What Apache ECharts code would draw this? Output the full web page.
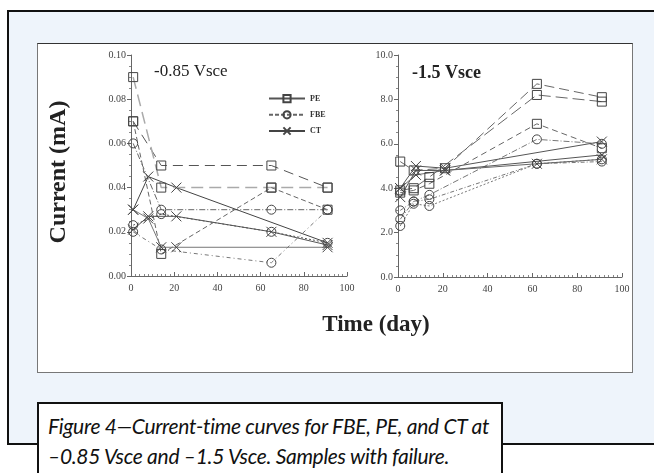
<!DOCTYPE html>
<html>
<head>
<meta charset="utf-8">
<script src="https://cdn.jsdelivr.net/npm/echarts@6/dist/echarts.min.js"></script>
<style>
  html, body { margin: 0; padding: 0; width: 654px; height: 473px; overflow: hidden; background: #fff; }
  #frame { position: absolute; left: 7px; top: 10px; width: 660px; height: 431px; background: #eef4fb; border: 2px solid #111; }
  #box { position: absolute; left: 37px; top: 43px; width: 594px; height: 328px; background: #fff; border: 1px solid #777; border-top-color: #333; }
  #caption { position: absolute; left: 37px; top: 402px; width: 466px; height: 100px; background: #fff; border: 2px solid #111;
    font-family: Lato, "Noto Sans", sans-serif; font-style: italic; font-size: 21px; line-height: 30px; letter-spacing: -0.3px;
    color: #111; padding: 7px 0 0 9px; box-sizing: border-box; white-space: nowrap; }
  #main { position: absolute; left: 0; top: 0; width: 654px; height: 473px; }
</style>
</head>
<body>
<div id="frame"></div>
<div id="box"></div>
<div id="caption">Figure 4—Current-time curves for FBE, PE, and CT at<br>–0.85 Vsce and –1.5 Vsce. Samples with failure.</div>
<div id="main"></div>
<script>
// 数据：-0.85 Vsce（mA）
const pe085a = [[1, 0.090], [14, 0.040], [65, 0.040], [91, 0.040]]
const pe085b = [[1, 0.070], [14, 0.050], [65, 0.050], [91, 0.040]]
const pe085c = [[1, 0.070], [14, 0.010], [65, 0.040], [91, 0.030]]
const fbe085a = [[1, 0.060], [14, 0.030], [65, 0.030], [91, 0.030]]
const fbe085b = [[1, 0.020], [14, 0.012], [65, 0.006], [91, 0.030]]
const fbe085c = [[1, 0.023], [14, 0.028], [65, 0.020], [91, 0.015]]
const ct085a = [[1, 0.030], [8, 0.045], [21, 0.040], [91, 0.015]]
const ct085b = [[1, 0.021], [8, 0.027], [21, 0.027], [65, 0.020], [91, 0.014]]
const ct085c = [[1, 0.030], [8, 0.026], [14, 0.013], [21, 0.013], [91, 0.013]]

// 数据：-1.5 Vsce（mA）
const pe15a = [[1, 5.2], [7, 4.8], [21, 4.9], [62, 8.7], [91, 8.1]]
const pe15b = [[1, 3.9], [7, 4.0], [14, 4.5], [62, 8.2], [91, 7.9]]
const pe15c = [[1, 3.8], [7, 3.9], [14, 4.2], [62, 6.9], [91, 5.8]]
const fbe15a = [[1, 2.6], [7, 3.4], [14, 3.7], [62, 6.2], [91, 6.0]]
const fbe15b = [[1, 2.3], [7, 3.3], [14, 3.2], [62, 5.1], [91, 5.3]]
const fbe15c = [[1, 3.0], [7, 3.4], [14, 3.5], [62, 5.1], [91, 5.2]]
const ct15a = [[1, 4.0], [8, 5.0], [21, 4.9], [91, 6.1]]
const ct15b = [[1, 3.6], [8, 4.8], [21, 4.8], [91, 5.5]]
const ct15c = [[1, 4.0], [8, 4.6], [21, 4.8], [62, 5.1], [91, 5.3]]

const legendNames = ['PE', 'FBE', 'CT']

const SERIF = '"Liberation Serif", "DejaVu Serif", serif'
const CROSS = 'path://M0,0L10,10M10,0L0,10'

// 标记样式
const marks = {
  PE: { symbol: 'rect', size: 9 },
  FBE: { symbol: 'circle', size: 9 },
  CT: { symbol: CROSS, size: 10 }
}

function makeSeries(name, data, idx, color, dash, width) {
  return {
    name: name,
    type: 'line',
    xAxisIndex: idx,
    yAxisIndex: idx,
    data: data,
    symbol: marks[name].symbol,
    symbolSize: marks[name].size,
    showAllSymbol: true,
    lineStyle: { color: color, width: width || 1, type: dash },
    itemStyle: { color: 'rgba(255,255,255,0)', borderColor: '#444', borderWidth: 1 },
    emphasis: { disabled: true },
    z: 3
  }
}

function xAxisFor(idx) {
  return {
    type: 'value', gridIndex: idx, min: 0, max: 100, interval: 20,
    axisLine: { show: true, lineStyle: { color: '#666', width: 1 } },
    axisTick: { show: true, inside: true, length: 4, lineStyle: { color: '#666' } },
    minorTick: { show: true, splitNumber: 10, length: 2, lineStyle: { color: '#888' } },
    axisLabel: { color: '#444', fontFamily: SERIF, fontSize: 10, margin: 7 },
    splitLine: { show: false }
  }
}

function yAxisFor(idx, max, step, digits) {
  return {
    type: 'value', gridIndex: idx, min: 0, max: max, interval: step,
    axisLine: { show: true, lineStyle: { color: '#666', width: 1 } },
    axisTick: { show: true, length: 4, lineStyle: { color: '#666' } },
    minorTick: { show: true, splitNumber: 4, length: 2, lineStyle: { color: '#888' } },
    axisLabel: { color: '#444', fontFamily: SERIF, fontSize: 10, margin: 5, formatter: v => v.toFixed(digits) },
    splitLine: { show: false }
  }
}

const chart = echarts.init(document.getElementById('main'), null, { renderer: 'canvas' })

chart.setOption({
  backgroundColor: 'transparent',
  animation: false,
  grid: [
    { left: 131, top: 55, width: 216, height: 221 },
    { left: 398, top: 55, width: 224, height: 222 }
  ],
  xAxis: [xAxisFor(0), xAxisFor(1)],
  yAxis: [yAxisFor(0, 0.1, 0.02, 2), yAxisFor(1, 10, 2, 1)],
  legend: {
    data: [
      { name: legendNames[0], lineStyle: { type: 'solid' } },
      { name: legendNames[1], lineStyle: { type: [4, 2] } },
      { name: legendNames[2], lineStyle: { type: 'solid' } }
    ],
    orient: 'vertical',
    left: 263,
    top: 89,
    itemWidth: 36,
    itemHeight: 9,
    itemGap: 7,
    textStyle: { fontFamily: SERIF, fontSize: 8, color: '#333', fontWeight: 'bold' },
    selectedMode: false
  },
  graphic: [
    { type: 'text', left: 154, top: 63, style: { text: '-0.85 Vsce', font: '17px ' + SERIF, fill: '#222' } },
    { type: 'text', left: 412, top: 64, style: { text: '-1.5 Vsce', font: 'bold 18px ' + SERIF, fill: '#222' } },
    { type: 'text', x: 59, y: 172, rotation: Math.PI / 2,
      style: { text: 'Current (mA)', font: 'bold 24px ' + SERIF, fill: '#222', textAlign: 'center', textVerticalAlign: 'middle' } },
    { type: 'text', x: 376, y: 325,
      style: { text: 'Time (day)', font: 'bold 23px ' + SERIF, fill: '#222', textAlign: 'center', textVerticalAlign: 'middle' } }
  ],
  series: [
    makeSeries('PE', pe085b, 0, '#555', [10, 6]),
    makeSeries('FBE', fbe085a, 0, '#666', [6, 2, 1, 2]),
    makeSeries('CT', ct085a, 0, '#444', 'solid'),
    makeSeries('PE', pe085a, 0, '#aaa', [12, 6], 1.5),
    makeSeries('PE', pe085c, 0, '#666', [5, 3]),
    makeSeries('FBE', fbe085b, 0, '#777', [4, 3, 1, 3]),
    makeSeries('FBE', fbe085c, 0, '#555', [2, 2]),
    makeSeries('CT', ct085b, 0, '#555', 'solid'),
    makeSeries('CT', ct085c, 0, '#777', 'solid'),
    makeSeries('PE', pe15a, 1, '#666', [10, 5]),
    makeSeries('PE', pe15b, 1, '#666', [12, 5]),
    makeSeries('PE', pe15c, 1, '#666', [6, 4]),
    makeSeries('FBE', fbe15a, 1, '#777', [6, 2, 1, 2]),
    makeSeries('FBE', fbe15b, 1, '#777', [2, 2]),
    makeSeries('FBE', fbe15c, 1, '#777', [4, 2, 1, 2]),
    makeSeries('CT', ct15a, 1, '#555', 'solid'),
    makeSeries('CT', ct15b, 1, '#555', 'solid'),
    makeSeries('CT', ct15c, 1, '#666', 'solid')
  ]
})
</script>
</body>
</html>
